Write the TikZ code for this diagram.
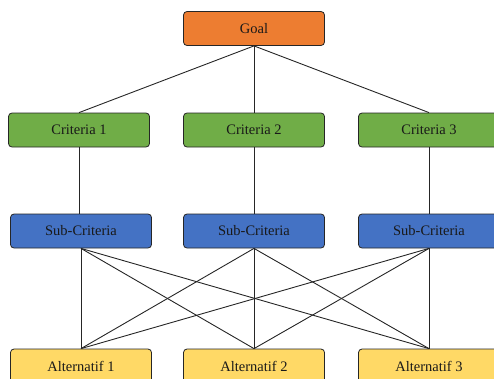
\documentclass[tikz,border=0pt]{standalone}
\usepackage{fontspec}
\setmainfont{Liberation Serif}
\definecolor{goalc}{HTML}{ED7D31}
\definecolor{critc}{HTML}{70AD47}
\definecolor{subc}{HTML}{4472C4}
\definecolor{altc}{HTML}{FFD966}
\tikzset{
  box/.style={draw=black!85, line width=0.8pt, rounded corners=3.5pt, minimum width=141pt, minimum height=34pt, inner sep=0pt, font=\fontsize{14.5}{16}\selectfont, text=black!90},
  goalbox/.style={box, fill=goalc},
  critbox/.style={box, fill=critc},
  subbox/.style={box, fill=subc},
  altbox/.style={box, fill=altc},
  link/.style={draw=black!85, line width=0.9pt}
}
\begin{document}
\begin{tikzpicture}[x=1pt,y=-1pt]
\useasboundingbox (0,0) rectangle (494,378);
\clip (0,0) rectangle (494,378);
\node[goalbox] (g) at (254,28.5) {Goal};
\node[critbox] (c1) at (79,130) {Criteria 1};
\node[critbox] (c2) at (254,130) {Criteria 2};
\node[critbox] (c3) at (429,130) {Criteria 3};
\node[subbox] (s1) at (81,231) {Sub-Criteria};
\node[subbox] (s2) at (254,231) {Sub-Criteria};
\node[subbox] (s3) at (429,231) {Sub-Criteria};
\node[altbox] (a1) at (81,366) {Alternatif 1};
\node[altbox] (a2) at (254,366) {Alternatif 2};
\node[altbox] (a3) at (429,366) {Alternatif 3};
\draw[link] (g.south) -- (c1.north);
\draw[link] (g.south) -- (c2.north);
\draw[link] (g.south) -- (c3.north);
\draw[link] (c1.south) -- (c1.south |- s1.north);
\draw[link] (c2.south) -- (s2.north);
\draw[link] (c3.south) -- (s3.north);
\foreach \s in {s1,s2,s3}{
  \foreach \a in {a1,a2,a3}{
    \draw[link] (\s.south) -- (\a.north);
  }
}
\end{tikzpicture}
\end{document}
